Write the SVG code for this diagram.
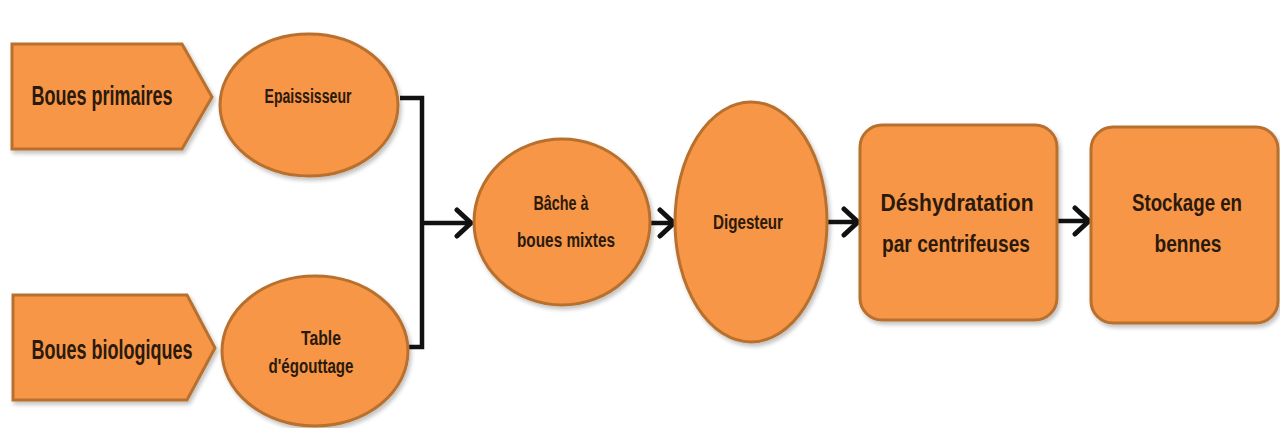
<svg xmlns="http://www.w3.org/2000/svg" width="1280" height="428" viewBox="0 0 1280 428">
  <style>
    .shape { fill: #F79646; stroke: #B8702E; stroke-width: 3; filter: url(#shadow); }
    .lbl { font-family: "Liberation Sans", Arial, sans-serif; font-weight: bold; fill: #2B1A0C; text-anchor: middle; }
    .big { font-size: 28px; }
    .mid { font-size: 24px; }
    .small { font-size: 20px; }
    .wire { fill: none; stroke: #111; stroke-width: 4.5; stroke-linejoin: miter; }
  </style>
  <defs>
    <filter id="shadow" x="-10%" y="-10%" width="125%" height="125%">
      <feGaussianBlur in="SourceAlpha" stdDeviation="2"/>
      <feOffset dx="2" dy="3" result="off"/>
      <feComponentTransfer><feFuncA type="linear" slope="0.25"/></feComponentTransfer>
      <feMerge><feMergeNode/><feMergeNode in="SourceGraphic"/></feMerge>
    </filter>
    <marker id="chev" viewBox="0 0 20 32" refX="17" refY="16" markerWidth="20" markerHeight="32" markerUnits="userSpaceOnUse" orient="auto">
      <path d="M3 3 L17 16 L3 29" fill="none" stroke="#111" stroke-width="5" stroke-linecap="round" stroke-linejoin="round"/>
    </marker>
  </defs>
  <rect width="1280" height="428" fill="#FFFFFF"/>

  <!-- connectors -->
  <g id="connectors">
    <path class="wire" d="M400 98 H422 V347 H402"/>
    <path class="wire" d="M422 223 H471" marker-end="url(#chev)"/>
    <path class="wire" d="M650 223 H674" marker-end="url(#chev)"/>
    <path class="wire" d="M827 222 H858" marker-end="url(#chev)"/>
    <path class="wire" d="M1057 221 H1089" marker-end="url(#chev)"/>
  </g>

  <g id="boues-primaires">
    <path class="shape" d="M12 44 H182 L212 97 L182 149 H12 Z"/>
    <text class="lbl big" x="102" y="105" textLength="141" lengthAdjust="spacingAndGlyphs">Boues primaires</text>
  </g>

  <g id="epaississeur">
    <ellipse class="shape" cx="309" cy="105" rx="89" ry="71"/>
    <text class="lbl small" x="308" y="103" textLength="87" lengthAdjust="spacingAndGlyphs">Epaississeur</text>
  </g>

  <g id="boues-biologiques">
    <path class="shape" d="M13 295 H187 L215 348 L187 400 H13 Z"/>
    <text class="lbl big" x="112" y="359" textLength="161" lengthAdjust="spacingAndGlyphs">Boues biologiques</text>
  </g>

  <g id="table-egouttage">
    <ellipse class="shape" cx="315" cy="351" rx="93" ry="75"/>
    <text class="lbl small" x="321" y="345" textLength="40" lengthAdjust="spacingAndGlyphs">Table</text>
    <text class="lbl small" x="311" y="373" textLength="85" lengthAdjust="spacingAndGlyphs">d'égouttage</text>
  </g>

  <g id="bache">
    <ellipse class="shape" cx="562" cy="222" rx="88" ry="83"/>
    <text class="lbl small" x="561" y="210" textLength="55" lengthAdjust="spacingAndGlyphs">Bâche à</text>
    <text class="lbl small" x="566" y="247" textLength="98" lengthAdjust="spacingAndGlyphs">boues mixtes</text>
  </g>

  <g id="digesteur">
    <ellipse class="shape" cx="751" cy="222" rx="76" ry="120"/>
    <text class="lbl small" x="748" y="229" textLength="70" lengthAdjust="spacingAndGlyphs">Digesteur</text>
  </g>

  <g id="deshydratation">
    <rect class="shape" x="860" y="125" width="197" height="195" rx="22"/>
    <text class="lbl mid" x="957" y="211" textLength="153" lengthAdjust="spacingAndGlyphs">Déshydratation</text>
    <text class="lbl mid" x="956" y="252" textLength="148" lengthAdjust="spacingAndGlyphs">par centrifeuses</text>
  </g>

  <g id="stockage">
    <rect class="shape" x="1091" y="127" width="187" height="196" rx="22"/>
    <text class="lbl mid" x="1187" y="211" textLength="110" lengthAdjust="spacingAndGlyphs">Stockage en</text>
    <text class="lbl mid" x="1188" y="252" textLength="67" lengthAdjust="spacingAndGlyphs">bennes</text>
  </g>
</svg>
